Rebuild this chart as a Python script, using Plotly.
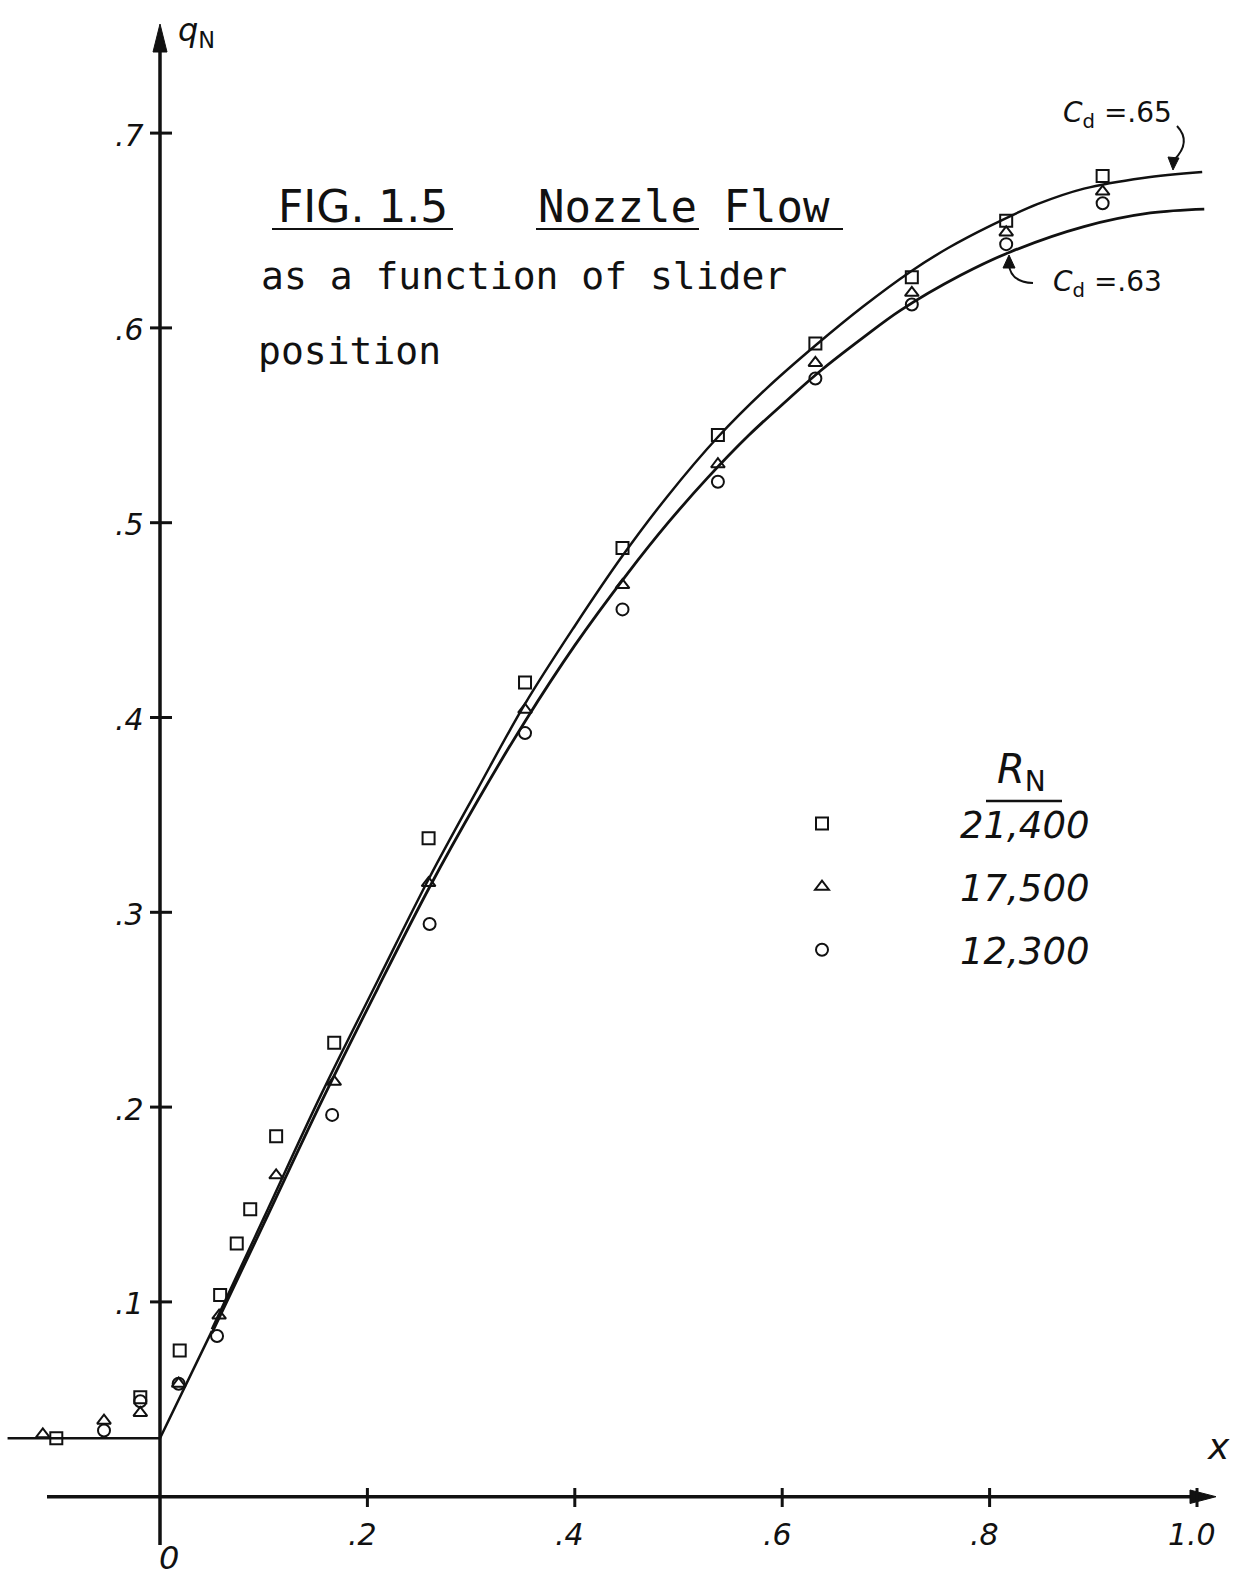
import plotly.graph_objects as go

# ---------------- data ----------------
# measured points, R_N = 21,400 (squares)
x_r21400 = [-0.100, -0.019, 0.019, 0.058, 0.074, 0.087, 0.112, 0.168, 0.259, 0.352, 0.446, 0.538, 0.632, 0.725, 0.816, 0.909]
q_r21400 = [0.030, 0.051, 0.075, 0.1035, 0.130, 0.1475, 0.185, 0.233, 0.338, 0.418, 0.487, 0.545, 0.592, 0.626, 0.655, 0.678]
# R_N = 17,500 (triangles)
x_r17500 = [-0.113, -0.054, -0.019, 0.018, 0.057, 0.112, 0.168, 0.259, 0.352, 0.446, 0.538, 0.632, 0.725, 0.816, 0.909]
q_r17500 = [0.032, 0.039, 0.043, 0.058, 0.093, 0.165, 0.213, 0.315, 0.404, 0.468, 0.530, 0.582, 0.618, 0.649, 0.670]
# R_N = 12,300 (circles)
x_r12300 = [-0.054, -0.019, 0.018, 0.055, 0.166, 0.260, 0.352, 0.446, 0.538, 0.632, 0.725, 0.816, 0.909]
q_r12300 = [0.034, 0.049, 0.058, 0.0825, 0.196, 0.294, 0.392, 0.4555, 0.521, 0.574, 0.612, 0.643, 0.664]

# theoretical curves
x_cd65 = [0.05, 0.10, 0.155, 0.21, 0.26, 0.306, 0.352, 0.40, 0.446, 0.49, 0.538, 0.585, 0.632, 0.678, 0.724, 0.76, 0.801, 0.846, 0.891, 0.948, 1.005]
q_cd65 = [0.086, 0.143, 0.206, 0.265, 0.318, 0.363, 0.407, 0.447, 0.483, 0.514, 0.544, 0.569, 0.591, 0.611, 0.629, 0.641, 0.6525, 0.6635, 0.6715, 0.677, 0.680]
x_cd63 = [0.05, 0.10, 0.155, 0.21, 0.26, 0.306, 0.352, 0.40, 0.451, 0.49, 0.528, 0.568, 0.605, 0.637, 0.678, 0.714, 0.772, 0.820, 0.891, 0.955, 1.007]
q_cd63 = [0.084, 0.140, 0.202, 0.261, 0.313, 0.357, 0.398, 0.437, 0.474, 0.500, 0.523, 0.545, 0.563, 0.578, 0.595, 0.609, 0.627, 0.639, 0.652, 0.659, 0.661]
# closed-slider flat part and initial rise
x_base = [-0.147, 0.0, 0.05]
q_base = [0.030, 0.030, 0.085]

# axes ticks
y_ticks = [0.1, 0.2, 0.3, 0.4, 0.5, 0.6, 0.7]
y_tick_labels = [".1", ".2", ".3", ".4", ".5", ".6", ".7"]
x_ticks = [0.2, 0.4, 0.6, 0.8, 1.0]
x_tick_labels = [".2", ".4", ".6", ".8", "1.0"]

series_names = ["21,400", "17,500", "12,300"]

# ---------------- layout geometry ----------------
W, H = 1245, 1577
X0, Y0 = 160.0, 1496.7      # pixel position of origin
SX, SY = 1037.0, 1948.0     # pixels per unit
x_range = [-X0 / SX, (W - X0) / SX]
y_range = [(Y0 - H) / SY, Y0 / SY]

def dx(p):
    return (p - X0) / SX

def dy(p):
    return (Y0 - p) / SY

def px(p):
    return p / W

def py(p):
    return 1 - p / H

FONT = "DejaVu Sans"
MONO = "DejaVu Sans Mono"
BLACK = "#111111"

fig = go.Figure()

# lines
fig.add_trace(go.Scatter(x=x_base, y=q_base, mode="lines",
                         line=dict(color=BLACK, width=2.5), showlegend=False, hoverinfo="skip"))
fig.add_trace(go.Scatter(x=x_cd65, y=q_cd65, mode="lines", name="Cd=.65",
                         line=dict(color=BLACK, width=2.5, shape="spline", smoothing=1.0),
                         showlegend=False))
fig.add_trace(go.Scatter(x=x_cd63, y=q_cd63, mode="lines", name="Cd=.63",
                         line=dict(color=BLACK, width=2.8, shape="spline", smoothing=1.0),
                         showlegend=False))

# measured points
for xs, qs, name, sym, g in [
    (x_r21400, q_r21400, series_names[0], "square-open", "a"),
    (x_r17500, q_r17500, series_names[1], "triangle-up-open", "b"),
    (x_r12300, q_r12300, series_names[2], "circle-open", "c"),
]:
    fig.add_trace(go.Scatter(
        x=xs, y=qs, mode="markers", name=name, legendgroup=g,
        marker=dict(symbol=sym, size=12, color=BLACK, line=dict(width=2, color=BLACK)),
        cliponaxis=False,
    ))

shapes = []
# axes
shapes.append(dict(type="line", xref="x", yref="y", x0=dx(47), x1=dx(1200), y0=0, y1=0,
                   line=dict(color=BLACK, width=3.5)))
shapes.append(dict(type="line", xref="x", yref="y", x0=0, x1=0, y0=dy(1545), y1=dy(40),
                   line=dict(color=BLACK, width=3.5)))
# arrowheads
shapes.append(dict(type="path", xref="x", yref="y",
                   path=f"M {dx(153)},{dy(52)} L {dx(160)},{dy(24)} L {dx(167)},{dy(52)} Z",
                   fillcolor=BLACK, line=dict(color=BLACK, width=1)))
shapes.append(dict(type="path", xref="x", yref="y",
                   path=f"M {dx(1190)},{dy(1490)} L {dx(1216)},{dy(1496.7)} L {dx(1190)},{dy(1503.5)} Z",
                   fillcolor=BLACK, line=dict(color=BLACK, width=1)))
# ticks
for t in y_ticks:
    shapes.append(dict(type="line", xref="x", yref="y", x0=dx(150), x1=dx(172), y0=t, y1=t,
                       line=dict(color=BLACK, width=3)))
for t in x_ticks:
    shapes.append(dict(type="line", xref="x", yref="y", x0=t, x1=t, y0=dy(1488), y1=dy(1507),
                       line=dict(color=BLACK, width=3)))
# title underlines
for a, b in [(272, 453), (536, 699), (729, 843)]:
    shapes.append(dict(type="line", xref="paper", yref="paper", x0=px(a), x1=px(b), y0=py(229), y1=py(229),
                       line=dict(color=BLACK, width=2)))
# R_N bar
shapes.append(dict(type="line", xref="paper", yref="paper", x0=px(986), x1=px(1062), y0=py(801), y1=py(801),
                   line=dict(color=BLACK, width=2.5)))
# Cd arrows (curved)
shapes.append(dict(type="path", xref="x", yref="y",
                   path=f"M {dx(1177)},{dy(126)} Q {dx(1192)},{dy(142)} {dx(1174)},{dy(160)}",
                   line=dict(color=BLACK, width=2)))
shapes.append(dict(type="path", xref="x", yref="y",
                   path=f"M {dx(1168)},{dy(157)} L {dx(1173)},{dy(170)} L {dx(1179)},{dy(158)} Z",
                   fillcolor=BLACK, line=dict(color=BLACK, width=1)))
shapes.append(dict(type="path", xref="x", yref="y",
                   path=f"M {dx(1033)},{dy(283)} Q {dx(1010)},{dy(282)} {dx(1009)},{dy(264)}",
                   line=dict(color=BLACK, width=2)))
shapes.append(dict(type="path", xref="x", yref="y",
                   path=f"M {dx(1003)},{dy(268)} L {dx(1009)},{dy(255)} L {dx(1015)},{dy(268)} Z",
                   fillcolor=BLACK, line=dict(color=BLACK, width=1)))

ann = []
def txt(x, y, s, size, xanchor="center", italic=False, yanchor="middle", family=FONT):
    ann.append(dict(x=px(x), y=py(y), xref="paper", yref="paper", text=s, showarrow=False,
                    xanchor=xanchor, yanchor=yanchor,
                    font=dict(family=family, size=size, color=BLACK,
                              style="italic" if italic else "normal")))

# tick labels
for t, lab in zip(y_ticks, y_tick_labels):
    ann.append(dict(x=0, y=t, xref="x", yref="y", text=lab, showarrow=False, xanchor="right",
                    yanchor="middle", xshift=-14, yshift=-2,
                    font=dict(family=FONT, size=30, color=BLACK, style="italic")))
for t, lab in zip(x_ticks, x_tick_labels):
    ann.append(dict(x=t, y=0, xref="x", yref="y", text=lab, showarrow=False, xanchor="center",
                    yanchor="middle", xshift=-5, yshift=-38,
                    font=dict(family=FONT, size=30, color=BLACK, style="italic")))
txt(169, 1558, "0", 32, italic=True)
txt(1218, 1446, "x", 36, italic=True)
txt(196, 32, "<i>q</i><sub>N</sub>", 32)

# title text
txt(276, 206, "FIG. 1.5", 44, xanchor="left")
txt(536, 206, "Nozzle Flow", 44, xanchor="left", family=MONO)
txt(259, 276, "as a function of slider", 38, xanchor="left", family=MONO)
txt(256, 351, "position", 38, xanchor="left", family=MONO)

# legend header
txt(1022, 772, "<i>R</i><sub>N</sub>", 40)

# Cd labels
txt(1117, 114, "<i>C</i><sub>d</sub> =.65", 28)
txt(1107, 283, "<i>C</i><sub>d</sub> =.63", 28)

fig.update_layout(
    width=W, height=H,
    margin=dict(l=0, r=0, t=0, b=0),
    paper_bgcolor="white", plot_bgcolor="white",
    xaxis=dict(range=x_range, visible=False, fixedrange=True),
    yaxis=dict(range=y_range, visible=False, fixedrange=True),
    shapes=shapes,
    annotations=ann,
    showlegend=True,
    legend=dict(x=px(684), y=py(793), xanchor="left", yanchor="top",
                bgcolor="rgba(0,0,0,0)", borderwidth=0,
                font=dict(family=FONT, size=37, color=BLACK, style="italic"),
                itemwidth=266, tracegroupgap=12, traceorder="grouped"),
)

fig.write_html("out.html", config={"displayModeBar": False},
               post_script="document.body.style.margin='0';document.body.style.overflow='hidden';")
